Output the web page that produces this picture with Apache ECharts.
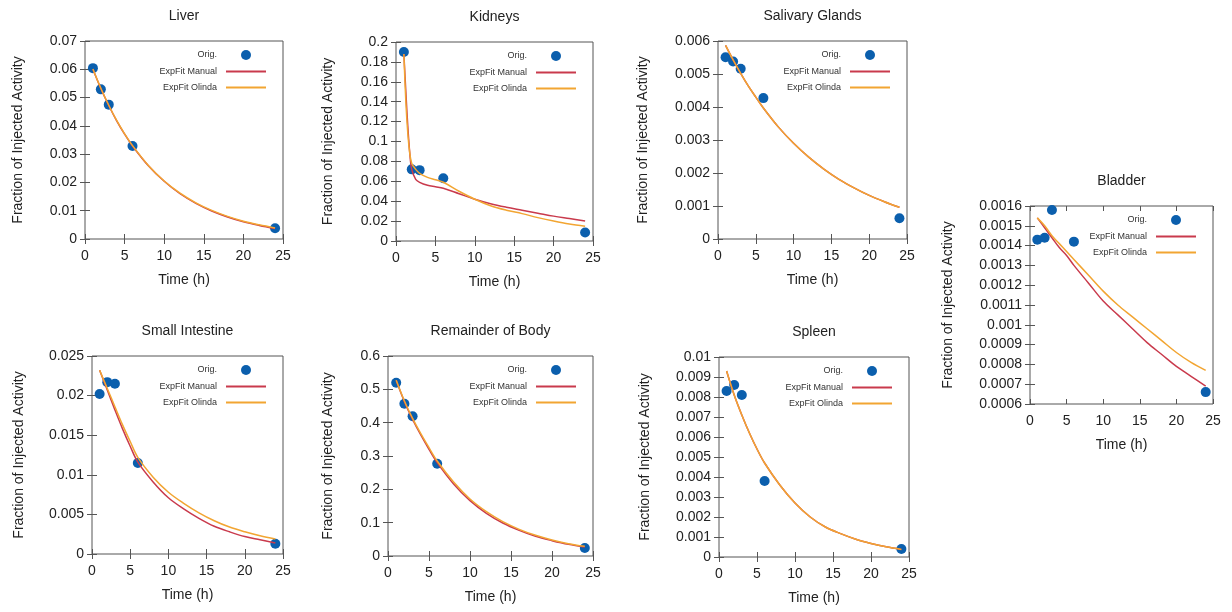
<!DOCTYPE html>
<html>
<head>
<meta charset="utf-8">
<title>Biodistribution fits</title>
<script src="https://cdn.jsdelivr.net/npm/echarts@6/dist/echarts.min.js"></script>
<style>
  html, body { margin: 0; padding: 0; background: #fff; }
  #main { width: 1232px; height: 612px; }
</style>
</head>
<body>
<div id="main"></div>
<script>
// measured time points (h)
var pointTime = [1, 2, 3, 6, 24];
var fitTime = [1, 2, 3, 4, 5, 6, 8, 10, 12, 14, 16, 18, 20, 22, 24];
var kidneyFitTime = [1, 1.25, 1.5, 1.75, 2, 2.5, 3, 4, 5, 6, 8, 10, 12, 14, 16, 18, 20, 22, 24];

// Liver
var liverOrig = [0.0604, 0.0529, 0.0475, 0.0329, 0.0038];
var liverManual = [0.0600, 0.0532, 0.0472, 0.0418, 0.0371, 0.0329, 0.0259, 0.0204, 0.0160, 0.0126, 0.0099, 0.0078, 0.0061, 0.0048, 0.0037];
var liverOlinda = [0.0601, 0.0533, 0.0473, 0.0419, 0.0372, 0.0330, 0.0260, 0.0205, 0.0162, 0.0128, 0.0101, 0.0080, 0.0063, 0.0050, 0.0039];

// Kidneys
var kidneysOrig = [0.190, 0.072, 0.0712, 0.063, 0.0086];
var kidneysManual = [0.188, 0.150, 0.115, 0.088, 0.072, 0.062, 0.059, 0.056, 0.0545, 0.053, 0.0475, 0.042, 0.0375, 0.034, 0.031, 0.028, 0.025, 0.0225, 0.020];
var kidneysOlinda = [0.188, 0.140, 0.108, 0.088, 0.078, 0.072, 0.068, 0.064, 0.0615, 0.059, 0.050, 0.042, 0.0355, 0.031, 0.0275, 0.0235, 0.020, 0.017, 0.0148];

// Salivary Glands
var salivaryOrig = [0.00551, 0.00538, 0.00516, 0.00427, 0.00063];
var salivaryManual = [0.00587, 0.00543, 0.00502, 0.00464, 0.00430, 0.00397, 0.00339, 0.00290, 0.00248, 0.00212, 0.00181, 0.00155, 0.00132, 0.00113, 0.00096];
var salivaryOlinda = [0.00587, 0.00543, 0.00502, 0.00464, 0.00430, 0.00397, 0.00339, 0.00290, 0.00248, 0.00212, 0.00181, 0.00155, 0.00132, 0.00113, 0.00096];

// Bladder
var bladderOrig = [0.00143, 0.00144, 0.00158, 0.00142, 0.00066];
var bladderManual = [0.00154, 0.00149, 0.00144, 0.00139, 0.00135, 0.00130, 0.00121, 0.00112, 0.00105, 0.00098, 0.00091, 0.00085, 0.00079, 0.00074, 0.00069];
var bladderOlinda = [0.00154, 0.00150, 0.00145, 0.00141, 0.00137, 0.00133, 0.00125, 0.00117, 0.00110, 0.00104, 0.00098, 0.00092, 0.00086, 0.00081, 0.00077];

// Small Intestine
var intestineOrig = [0.0202, 0.0217, 0.0215, 0.0115, 0.0013];
var intestineManual = [0.0232, 0.0207, 0.0182, 0.0158, 0.0136, 0.0116, 0.0091, 0.0071, 0.0057, 0.0045, 0.0035, 0.0028, 0.0022, 0.0018, 0.0014];
var intestineOlinda = [0.0232, 0.0209, 0.0186, 0.0163, 0.0142, 0.0122, 0.0097, 0.0078, 0.0064, 0.0052, 0.0042, 0.0034, 0.0028, 0.0023, 0.0019];

// Remainder of Body
var remainderOrig = [0.520, 0.457, 0.419, 0.277, 0.024];
var remainderManual = [0.527, 0.463, 0.410, 0.363, 0.320, 0.280, 0.216, 0.166, 0.128, 0.099, 0.077, 0.059, 0.046, 0.035, 0.027];
var remainderOlinda = [0.527, 0.465, 0.413, 0.367, 0.325, 0.285, 0.222, 0.171, 0.133, 0.103, 0.080, 0.062, 0.048, 0.037, 0.029];

// Spleen
var spleenOrig = [0.0083, 0.0086, 0.0081, 0.0038, 0.0004];
var spleenManual = [0.0093, 0.0081, 0.0071, 0.0062, 0.0054, 0.0047, 0.0036, 0.0027, 0.0020, 0.0015, 0.00117, 0.00089, 0.00068, 0.00051, 0.00038];
var spleenOlinda = [0.0093, 0.0081, 0.0071, 0.0062, 0.0054, 0.0047, 0.0036, 0.0027, 0.0020, 0.0015, 0.00117, 0.00089, 0.00068, 0.00051, 0.00038];

var legendNames = ['Orig.', 'ExpFit Manual', 'ExpFit Olinda'];
var colorOrig = '#0b5fad';
var colorManual = '#c93a4c';
var colorOlinda = '#f2a532';
var fontFamily = '"Liberation Sans", Arial, sans-serif';

// layout of each small plot (pixels)
var panels = [
    {title: 'Liver', left: 85, top: 41, width: 198, height: 198, yMin: 0, yMax: 0.07, yStep: 0.01, nameGap: 60,
        orig: liverOrig, t: fitTime, manual: liverManual, olinda: liverOlinda},
    {title: 'Kidneys', left: 396, top: 42, width: 197, height: 199, yMin: 0, yMax: 0.2, yStep: 0.02, nameGap: 61,
        orig: kidneysOrig, t: kidneyFitTime, manual: kidneysManual, olinda: kidneysOlinda},
    {title: 'Salivary Glands', left: 718, top: 41, width: 189, height: 198, yMin: 0, yMax: 0.006, yStep: 0.001, nameGap: 68,
        orig: salivaryOrig, t: fitTime, manual: salivaryManual, olinda: salivaryOlinda},
    {title: 'Bladder', left: 1030, top: 206, width: 183, height: 198, yMin: 0.0006, yMax: 0.0016, yStep: 0.0001, nameGap: 75,
        orig: bladderOrig, t: fitTime, manual: bladderManual, olinda: bladderOlinda},
    {title: 'Small Intestine', left: 92, top: 356, width: 191, height: 198, yMin: 0, yMax: 0.025, yStep: 0.005, nameGap: 66,
        orig: intestineOrig, t: fitTime, manual: intestineManual, olinda: intestineOlinda},
    {title: 'Remainder of Body', left: 388, top: 356, width: 205, height: 200, yMin: 0, yMax: 0.6, yStep: 0.1, nameGap: 53,
        orig: remainderOrig, t: fitTime, manual: remainderManual, olinda: remainderOlinda},
    {title: 'Spleen', left: 719, top: 357, width: 190, height: 200, yMin: 0, yMax: 0.01, yStep: 0.001, nameGap: 67,
        orig: spleenOrig, t: fitTime, manual: spleenManual, olinda: spleenOlinda}
];

function pairs(xs, ys) {
    return xs.map(function (x, i) { return [x, ys[i]]; });
}

var titles = [], grids = [], legends = [], xAxes = [], yAxes = [], series = [];

panels.forEach(function (p, i) {
    titles.push({
        text: p.title,
        left: p.left + p.width / 2,
        top: p.top - 32,
        textAlign: 'center',
        padding: 0,
        textStyle: {fontSize: 14, fontWeight: 'normal', color: '#222', fontFamily: fontFamily}
    });
    grids.push({
        left: p.left, top: p.top, width: p.width, height: p.height,
        containLabel: false,
        outerBoundsMode: 'none',
        show: true, borderColor: '#555', borderWidth: 1, backgroundColor: 'transparent'
    });
    legends.push({
        // hide the marker on the line entries, keep only the line
        data: [
            {name: legendNames[0]},
            {name: legendNames[1], itemStyle: {opacity: 0}},
            {name: legendNames[2], itemStyle: {opacity: 0}}
        ],
        orient: 'vertical',
        align: 'right',
        right: 1232 - (p.left + p.width) + 16,
        top: p.top + 9,
        padding: 0,
        itemWidth: 40,
        itemHeight: 10,
        itemGap: 7,
        selectedMode: false,
        textStyle: {fontSize: 9, color: '#333', fontFamily: fontFamily, padding: [0, 4, 0, 0]}
    });
    // bottom + mirrored top x axis
    xAxes.push({
        type: 'value', gridIndex: i, min: 0, max: 25, interval: 5,
        name: 'Time (h)', nameLocation: 'middle', nameGap: 34,
        nameTextStyle: {fontSize: 14, color: '#222', fontFamily: fontFamily},
        axisLine: {show: false},
        axisTick: {inside: true, length: 5, lineStyle: {color: '#555'}},
        axisLabel: {fontSize: 14, color: '#222', margin: 10, fontFamily: fontFamily},
        splitLine: {show: false}
    });
    xAxes.push({
        type: 'value', gridIndex: i, position: 'top', min: 0, max: 25, interval: 5,
        axisLine: {show: false},
        axisTick: {inside: true, length: 5, lineStyle: {color: '#555'}},
        axisLabel: {show: false},
        splitLine: {show: false}
    });
    // left + mirrored right y axis
    yAxes.push({
        type: 'value', gridIndex: i, min: p.yMin, max: p.yMax, interval: p.yStep,
        name: 'Fraction of Injected Activity', nameLocation: 'middle', nameGap: p.nameGap,
        nameTextStyle: {fontSize: 14, color: '#222', fontFamily: fontFamily},
        axisLine: {show: false},
        axisTick: {inside: true, length: 5, lineStyle: {color: '#555'}},
        axisLabel: {fontSize: 14, color: '#222', margin: 8, fontFamily: fontFamily},
        splitLine: {show: false}
    });
    yAxes.push({
        type: 'value', gridIndex: i, position: 'right', min: p.yMin, max: p.yMax, interval: p.yStep,
        axisLine: {show: false},
        axisTick: {inside: true, length: 5, lineStyle: {color: '#555'}},
        axisLabel: {show: false},
        splitLine: {show: false}
    });

    series.push({
        name: 'Orig.', type: 'scatter', xAxisIndex: 2 * i, yAxisIndex: 2 * i,
        symbol: 'circle', symbolSize: 10,
        itemStyle: {color: colorOrig, opacity: 1},
        data: pairs(pointTime, p.orig)
    });
    series.push({
        name: 'ExpFit Manual', type: 'line', xAxisIndex: 2 * i, yAxisIndex: 2 * i,
        symbol: 'none', smooth: 0.35,
        lineStyle: {color: colorManual, width: 1.5},
        itemStyle: {color: colorManual},
        data: pairs(p.t, p.manual)
    });
    series.push({
        name: 'ExpFit Olinda', type: 'line', xAxisIndex: 2 * i, yAxisIndex: 2 * i,
        symbol: 'none', smooth: 0.35,
        lineStyle: {color: colorOlinda, width: 1.5},
        itemStyle: {color: colorOlinda},
        data: pairs(p.t, p.olinda)
    });
});

var option = {
    backgroundColor: '#fff',
    animation: false,
    title: titles,
    grid: grids,
    legend: legends,
    xAxis: xAxes,
    yAxis: yAxes,
    series: series
};

var myChart = echarts.init(document.getElementById('main'));
myChart.setOption(option);
</script>
</body>
</html>
